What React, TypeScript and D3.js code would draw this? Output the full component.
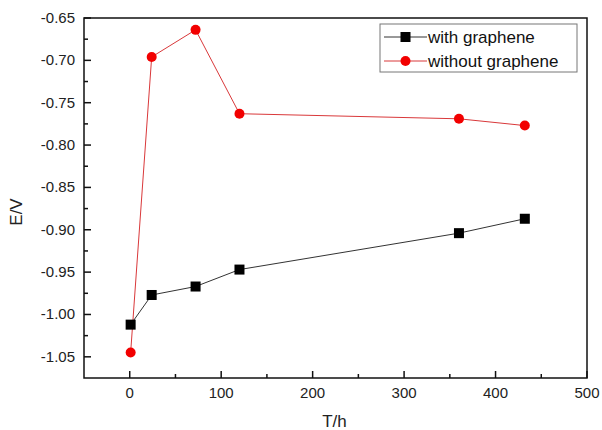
import React from "react";
import * as d3 from "d3";

const hours = [1, 24, 72, 120, 360, 432];
const withGraphene = [-1.012, -0.977, -0.967, -0.947, -0.904, -0.887];
const withoutGraphene = [-1.045, -0.696, -0.664, -0.763, -0.769, -0.777];
const xTicks = [0, 100, 200, 300, 400, 500];
const yTicks = [-0.65, -0.7, -0.75, -0.8, -0.85, -0.9, -0.95, -1.0, -1.05];
const seriesNames = ["with graphene", "without graphene"];

const W = 602;
const H = 430;
const left = 84;
const right = 587;
const top = 18;
const bottom = 378;
const font = "Arial, 'Liberation Sans', sans-serif";

export default function App() {
  const x = d3.scaleLinear().domain([-50, 500]).range([left, right]);
  const y = d3.scaleLinear().domain([-1.075, -0.65]).range([bottom, top]);
  const line = d3
    .line<[number, number]>()
    .x((d) => x(d[0]))
    .y((d) => y(d[1]));
  const blackPts: [number, number][] = hours.map((h, i) => [h, withGraphene[i]]);
  const redPts: [number, number][] = hours.map((h, i) => [h, withoutGraphene[i]]);

  const xMinor = d3.range(-50, 500, 100).filter((v) => v > -50);
  const yMinor = d3.range(-1.075, -0.65, 0.05).map((v) => +v.toFixed(3)).filter((v) => v > -1.075);

  return (
    <svg
      width={W}
      height={H}
      style={{ position: "absolute", left: 0, top: 0, background: "#fff" }}
    >
      <rect x={0} y={0} width={W} height={H} fill="#fff" />
      {/* series lines */}
      <path d={line(redPts) || ""} fill="none" stroke="#d9383a" strokeWidth={1} />
      <path d={line(blackPts) || ""} fill="none" stroke="#333" strokeWidth={1} />
      {redPts.map((p, i) => (
        <circle key={"r" + i} cx={x(p[0])} cy={y(p[1])} r={5} fill="#f20000" />
      ))}
      {blackPts.map((p, i) => (
        <rect key={"b" + i} x={x(p[0]) - 5} y={y(p[1]) - 5} width={10} height={10} fill="#000" />
      ))}

      {/* frame */}
      <rect
        x={left}
        y={top}
        width={right - left}
        height={bottom - top}
        fill="none"
        stroke="#111"
        strokeWidth={1.5}
      />

      {/* x ticks */}
      {xTicks.map((t) => (
        <g key={"xt" + t}>
          <line x1={x(t)} x2={x(t)} y1={bottom} y2={bottom - 7} stroke="#111" strokeWidth={1.5} />
          <text
            x={x(t)}
            y={bottom + 20}
            textAnchor="middle"
            fontFamily={font}
            fontSize={15}
            fill="#222"
          >
            {t}
          </text>
        </g>
      ))}
      {xMinor.map((t) => (
        <line key={"xm" + t} x1={x(t)} x2={x(t)} y1={bottom} y2={bottom - 4} stroke="#111" strokeWidth={1.5} />
      ))}

      {/* y ticks */}
      {yTicks.map((t) => (
        <g key={"yt" + t}>
          <line x1={left} x2={left + 7} y1={y(t)} y2={y(t)} stroke="#111" strokeWidth={1.5} />
          <text
            x={left - 9}
            y={y(t) + 5}
            textAnchor="end"
            fontFamily={font}
            fontSize={15}
            fill="#222"
          >
            {t.toFixed(2)}
          </text>
        </g>
      ))}
      {yMinor.map((t) => (
        <line key={"ym" + t} x1={left} x2={left + 4} y1={y(t)} y2={y(t)} stroke="#111" strokeWidth={1.5} />
      ))}

      {/* axis titles */}
      <text
        x={(left + right) / 2 - 1}
        y={427}
        textAnchor="middle"
        fontFamily={font}
        fontSize={17}
        fill="#222"
      >
        T/h
      </text>
      <text
        transform={`translate(22,${(top + bottom) / 2 + 14}) rotate(-90)`}
        textAnchor="middle"
        fontFamily={font}
        fontSize={17}
        fill="#222"
      >
        E/V
      </text>

      {/* legend */}
      <rect x={380} y={24} width={197} height={48} fill="#fff" stroke="#777" strokeWidth={1} />
      <line x1={384} x2={427} y1={37} y2={37} stroke="#333" strokeWidth={1} />
      <rect x={400.5} y={32} width={10} height={10} fill="#000" />
      <text x={428} y={43} fontFamily={font} fontSize={17} fill="#111">
        {seriesNames[0]}
      </text>
      <line x1={384} x2={427} y1={61} y2={61} stroke="#d9383a" strokeWidth={1} />
      <circle cx={405.5} cy={61} r={5} fill="#f20000" />
      <text x={428} y={67} fontFamily={font} fontSize={17} fill="#111">
        {seriesNames[1]}
      </text>
    </svg>
  );
}
